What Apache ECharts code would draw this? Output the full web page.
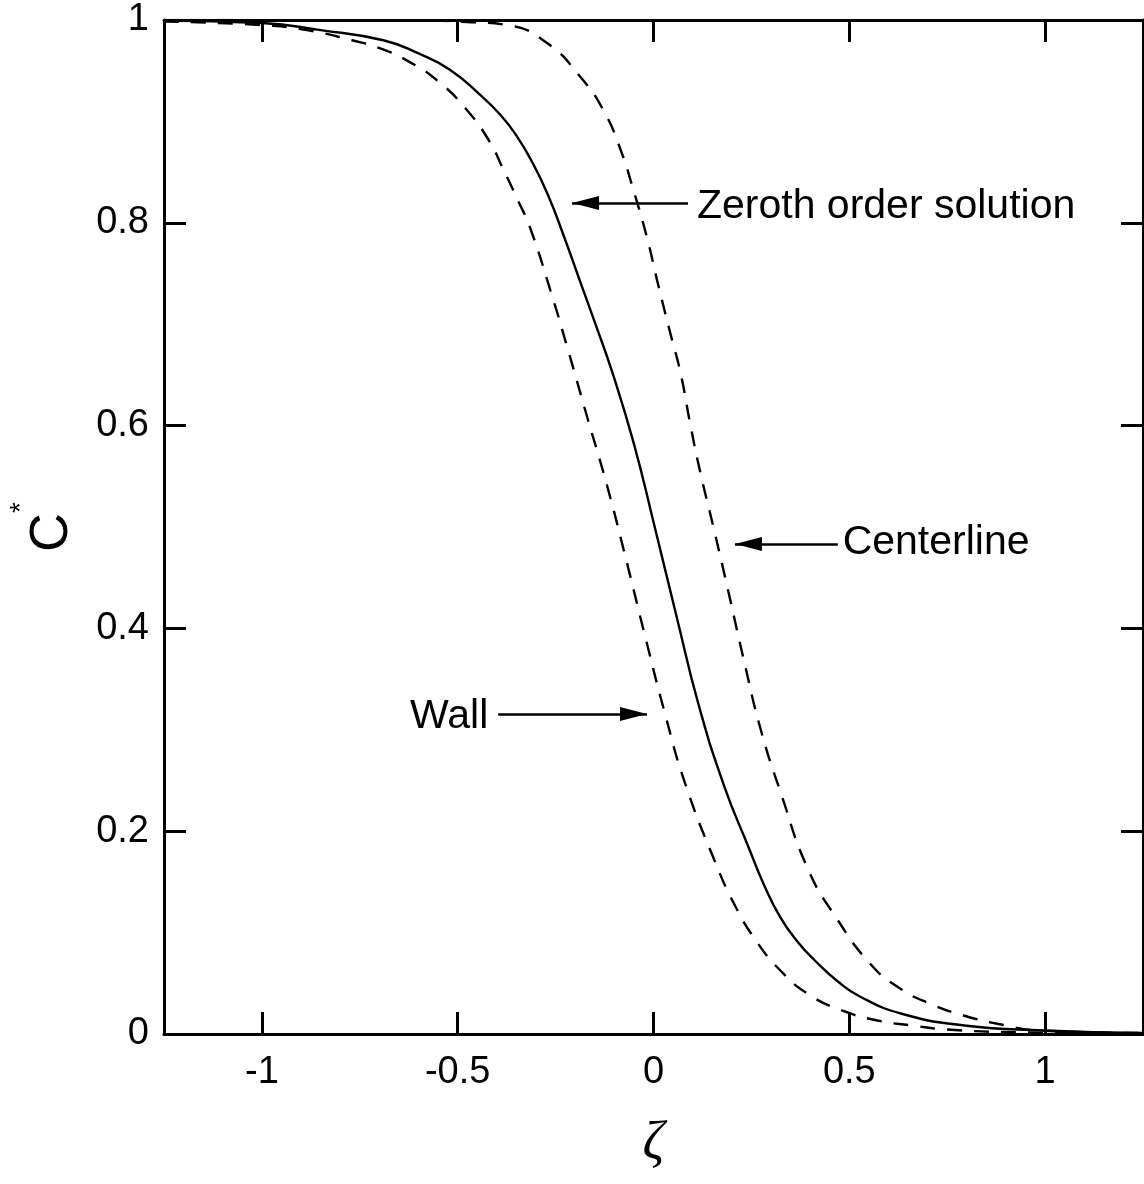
<!DOCTYPE html>
<html><head><meta charset="utf-8">
<script src="https://cdn.jsdelivr.net/npm/echarts@6/dist/echarts.min.js"></script>
<style>html,body{margin:0;padding:0;background:#fff}#chart{width:1144px;height:1184px}</style>
</head><body><div id="chart"></div>
<script>
// Tick values
const xTickValues = [-1, -0.5, 0, 0.5, 1];
const yTickValues = [0, 0.2, 0.4, 0.6, 0.8, 1];

// Curves: [zeta, C*]
const zerothOrder = [
  [-1.25, 0.9995], [-1.0, 0.997], [-0.85, 0.99], [-0.69, 0.98], [-0.6, 0.967],
  [-0.52, 0.951], [-0.442, 0.926], [-0.39, 0.906], [-0.35, 0.886], [-0.31, 0.86],
  [-0.27, 0.828], [-0.23, 0.788], [-0.19, 0.745], [-0.15, 0.702], [-0.103, 0.65],
  [-0.05, 0.582], [0.0, 0.505], [0.06, 0.41], [0.115, 0.325], [0.18, 0.245],
  [0.244, 0.183], [0.28, 0.149], [0.324, 0.115], [0.37, 0.09], [0.412, 0.0725],
  [0.47, 0.052], [0.527, 0.037], [0.634, 0.020], [0.794, 0.0084], [0.996, 0.0035],
  [1.25, 0.001]
];
const wall = [
  [-1.25, 0.9985], [-1.0, 0.995], [-0.885, 0.99], [-0.77, 0.98], [-0.698, 0.972],
  [-0.62, 0.958], [-0.545, 0.938], [-0.476, 0.911], [-0.42, 0.881], [-0.384, 0.853],
  [-0.346, 0.822], [-0.315, 0.795], [-0.263, 0.733], [-0.22, 0.677], [-0.169, 0.608],
  [-0.118, 0.54], [-0.07, 0.468], [-0.02, 0.39], [0.03, 0.315], [0.08, 0.248],
  [0.156, 0.171], [0.209, 0.126], [0.262, 0.092], [0.324, 0.0626], [0.394, 0.0396],
  [0.483, 0.023], [0.572, 0.0133], [0.661, 0.0084], [0.749, 0.0044], [0.95, 0.0015],
  [1.25, 0.0005]
];
const centerline = [
  [-1.25, 1.0], [-0.6, 0.9995], [-0.476, 0.998], [-0.373, 0.995], [-0.271, 0.977],
  [-0.187, 0.944], [-0.128, 0.911], [-0.084, 0.872], [-0.051, 0.832], [-0.015, 0.783],
  [0.01, 0.742], [0.043, 0.691], [0.069, 0.652], [0.095, 0.599], [0.12, 0.553],
  [0.153, 0.5], [0.189, 0.44], [0.23, 0.37], [0.274, 0.3], [0.325, 0.238],
  [0.394, 0.163], [0.466, 0.115], [0.554, 0.069], [0.625, 0.046], [0.705, 0.030],
  [0.794, 0.018], [0.9, 0.0084], [0.98, 0.0035], [1.25, 0.001]
];

// Annotations (data coordinates)
const labelTexts = ['Zeroth order solution', 'Centerline', 'Wall'];
const labelAt = [[0.111, 0.816], [0.483, 0.4842], [-0.422, 0.3126]];
const arrowFrom = [[0.0881, 0.8195], [0.4707, 0.4832], [-0.3967, 0.3156]];
const arrowTip = [[-0.208, 0.8195], [0.2079, 0.4832], [-0.0166, 0.3156]];

const black = '#000';
const sans = 'Liberation Sans';
const axisLineStyle = {color: black, width: 3};
const tickStyle = {show: true, inside: true, length: 22, lineStyle: {color: black, width: 3}};

const chart = echarts.init(document.getElementById('chart'));
chart.setOption({
  animation: false,
  backgroundColor: '#fff',
  grid: {left: 164, right: 1, top: 20, bottom: 150, containLabel: false, outerBoundsMode: 'none'},
  xAxis: [
    {
      type: 'value', position: 'bottom', min: -1.25, max: 1.25,
      axisLine: {show: true, onZero: false, lineStyle: axisLineStyle},
      axisTick: Object.assign({customValues: xTickValues}, tickStyle),
      axisLabel: {show: true, customValues: xTickValues, margin: 20, fontSize: 38, color: black, fontFamily: sans},
      splitLine: {show: false},
      name: 'ζ', nameLocation: 'middle', nameGap: 84, nameMoveOverlap: false,
      nameTextStyle: {fontSize: 54, fontFamily: 'Liberation Serif', fontStyle: 'italic', color: black}
    },
    {
      type: 'value', position: 'top', min: -1.25, max: 1.25,
      axisLine: {show: true, onZero: false, lineStyle: axisLineStyle},
      axisTick: Object.assign({customValues: xTickValues}, tickStyle),
      axisLabel: {show: false},
      splitLine: {show: false}
    }
  ],
  yAxis: [
    {
      type: 'value', position: 'left', min: 0, max: 1,
      axisLine: {show: true, onZero: false, lineStyle: axisLineStyle},
      axisTick: Object.assign({customValues: yTickValues}, tickStyle),
      axisLabel: {show: true, customValues: yTickValues, margin: 15, fontSize: 38, color: black, fontFamily: sans},
      splitLine: {show: false},
      name: '{c|C}{s|*}', nameLocation: 'middle', nameRotate: 90, nameGap: 85, nameMoveOverlap: false,
      nameTextStyle: {
        rich: {
          c: {fontSize: 54, lineHeight: 54, fontFamily: sans, color: black},
          s: {fontSize: 28, lineHeight: 28, fontFamily: sans, color: black, padding: [0, 0, 62, 0]}
        }
      }
    },
    {
      type: 'value', position: 'right', min: 0, max: 1,
      axisLine: {show: true, onZero: false, lineStyle: axisLineStyle},
      axisTick: Object.assign({customValues: yTickValues}, tickStyle),
      axisLabel: {show: false},
      splitLine: {show: false}
    }
  ],
  series: [
    {
      name: 'Zeroth order solution', type: 'line', data: zerothOrder,
      showSymbol: false, smooth: 0.5,
      lineStyle: {color: black, width: 2.4, type: 'solid'},
      markLine: {
        silent: true, animation: false,
        label: {show: false},
        lineStyle: {color: black, width: 2.5, type: 'solid'},
        data: arrowFrom.map((f, i) => [
          {coord: f, symbol: 'none'},
          {coord: arrowTip[i], symbol: 'triangle', symbolSize: [14, 27], symbolOffset: [0, '50%']}
        ])
      }
    },
    {
      name: 'Wall', type: 'line', data: wall,
      showSymbol: false, smooth: 0.5,
      lineStyle: {color: black, width: 2.4, type: [15, 12]}
    },
    {
      name: 'Centerline', type: 'line', data: centerline,
      showSymbol: false, smooth: 0.5,
      lineStyle: {color: black, width: 2.4, type: [15, 12]}
    },
    {
      name: 'labels', type: 'scatter', silent: true,
      symbolSize: 0, itemStyle: {color: black},
      data: labelAt.map((p, i) => ({
        value: p,
        label: {position: i === 2 ? 'left' : 'right'}
      })),
      label: {
        show: true, distance: 0, fontSize: 41, color: black, fontFamily: sans,
        textBorderWidth: 0, opacity: 1,
        formatter: p => labelTexts[p.dataIndex]
      }
    }
  ]
});
</script>
</body></html>
